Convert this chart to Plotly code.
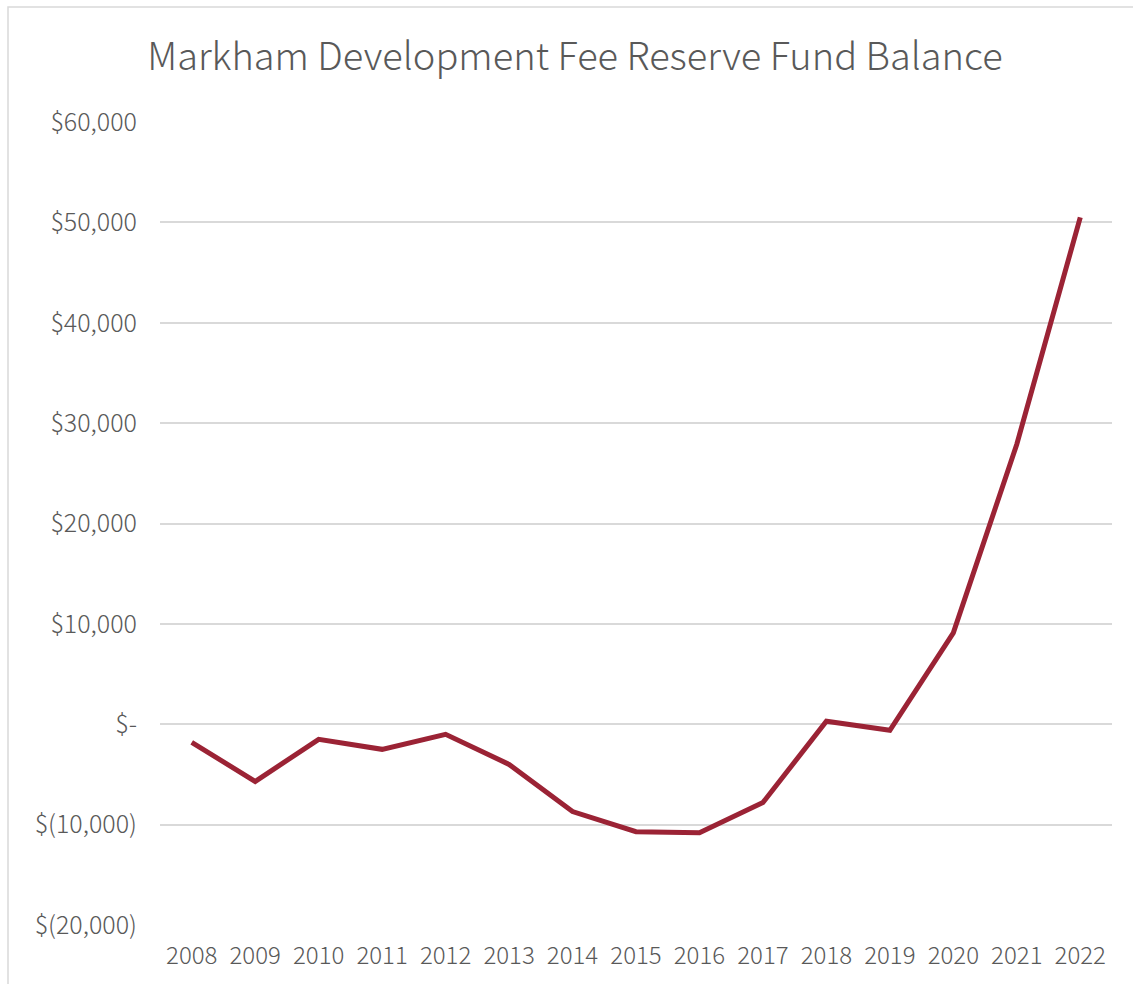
import plotly.graph_objects as go

years = [str(y) for y in range(2008, 2023)]
balance = [-1800, -5700, -1500, -2500, -1000, -4000, -8700, -10700, -10800,
           -7800, 300, -600, 9100, 27900, 50500]

tick_vals = [-20000, -10000, 0, 10000, 20000, 30000, 40000, 50000, 60000]
tick_text = ["$(20,000)", "$(10,000)", "$-", "$10,000", "$20,000", "$30,000",
             "$40,000", "$50,000", "$60,000"]

font_family = "Noto Sans CJK JP, Noto Sans, sans-serif"
gray = "#595959"

fig = go.Figure()
fig.add_trace(go.Scatter(
    x=years, y=balance, mode="lines",
    line=dict(color="#9B2335", width=5),
    hoverinfo="x+y",
))

# plot area spans x 160..1112 px, y 122..925 px
plot_w, plot_h = 952, 803

fig.update_layout(
    width=1133, height=984,
    margin=dict(l=160, r=21, t=122, b=59),
    paper_bgcolor="white", plot_bgcolor="white",
    showlegend=False,
    title=dict(text="Markham Development Fee Reserve Fund Balance",
               x=575 / 1133, xanchor="center", y=1 - 57 / 984, yanchor="middle",
               font=dict(family=font_family, size=38, color=gray, weight=300)),
    font=dict(family=font_family, color=gray, size=24, weight=300),
    xaxis=dict(type="category", range=[-0.5, 14.5], showgrid=False,
               showline=False, zeroline=False, ticks="",
               tickfont=dict(family=font_family, size=24, color=gray, weight=300),
               ticklabelstandoff=14),
    yaxis=dict(range=[-20000, 60000], tickvals=tick_vals, ticktext=tick_text,
               showgrid=True, gridcolor="#D9D9D9", gridwidth=2,
               zeroline=False, showline=False, ticks="",
               tickfont=dict(family=font_family, size=25, color=gray, weight=300),
               ticklabelstandoff=22),
    shapes=[dict(type="rect", xref="paper", yref="paper",
                 x0=-152 / plot_w, x1=1.0 + 60 / plot_w,
                 y0=-100 / plot_h, y1=1 + 115 / plot_h,
                 line=dict(color="#D9D9D9", width=1.5), layer="below")],
)

fig.write_html("out.html")
